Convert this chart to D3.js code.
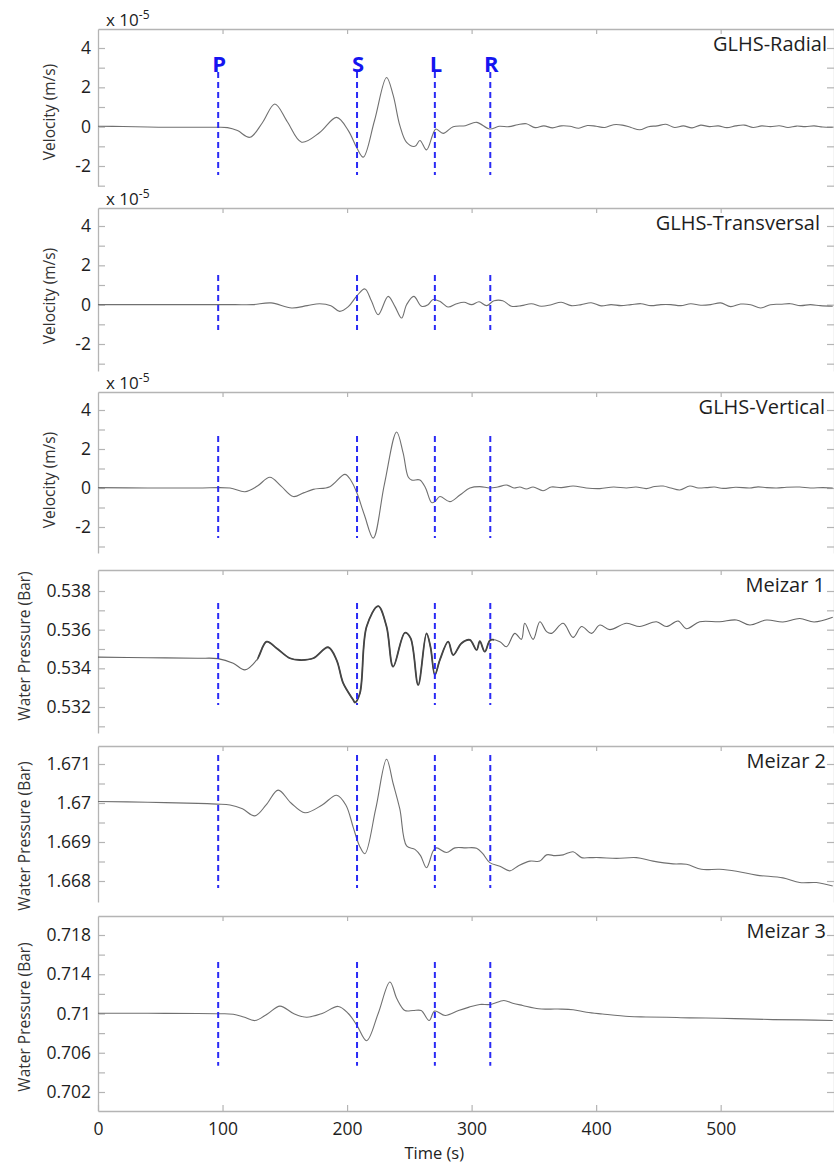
<!DOCTYPE html>
<html lang="en">
<head>
<meta charset="UTF-8">
<style>
    body {margin: 0; background: #fff;}
    svg text {font-family: "Open Sans", sans-serif;}
</style>
</head>
<body>
<div id="chart"></div>
<script src="https://d3js.org/d3.v7.min.js"></script>
<script>

// phase arrivals (s)
var phaseNames = ["P", "S", "L", "R"];
var phaseTimes = [96.5, 208, 270.5, 315];
var timeTicks = [0, 100, 200, 300, 400, 500];

// GLHS-Radial, velocity x 1e-5 m/s
var radialT = [0, 20, 40, 60, 80, 96, 104, 112, 122, 132, 142, 152, 163.5, 178, 191.6, 201, 208, 213, 222, 231.7, 237, 242.4, 247.8, 254.5, 258.5, 263.8, 269, 271.3, 277.2, 285.2, 295, 304, 314.6, 322, 330, 337, 344, 351, 358, 365, 372, 379, 386, 393, 400, 407, 414, 421, 428, 435, 442, 449, 456, 463, 470, 477, 484, 491, 498, 505, 512, 519, 526, 533, 540, 547, 554, 561, 568, 575, 582, 590];
var radialV = [0.02, 0.01, -0.02, -0.03, -0.03, -0.03, -0.05, -0.2, -0.54, 0.2, 1.15, 0.25, -0.79, -0.3, 0.47, -0.2, -1.1, -1.55, 0.3, 2.5, 1.6, 0.05, -0.8, -1.0, -0.7, -1.18, -0.37, -0.12, -0.34, 0.0, 0.05, 0.22, -0.12, 0.02, 0.0, 0.1, 0.15, -0.05, 0.04, -0.06, 0.04, 0.02, -0.08, 0.06, 0.02, -0.04, 0.1, 0.08, -0.04, -0.16, 0.0, 0.04, 0.12, -0.04, 0.04, -0.06, 0.08, 0.0, 0.04, -0.05, 0.04, 0.08, -0.04, 0.04, 0.0, 0.05, -0.04, 0.03, 0.0, 0.04, -0.02, -0.03];

// GLHS-Transversal
var transT = [0, 40, 80, 110, 124, 139, 155.5, 168, 178, 187, 194, 201, 208, 214.3, 219.5, 225, 233, 238.5, 243.8, 247.8, 253.6, 259.8, 265, 269, 274.5, 281, 288, 294, 300, 306, 312, 318, 325, 332, 340, 348, 356, 364, 372, 380, 388, 396, 404, 412, 420, 428, 436, 444, 452, 460, 468, 476, 484, 492, 500, 508, 516, 524, 532, 540, 548, 556, 564, 572, 580, 590];
var transV = [0.0, 0.0, 0.0, 0.0, 0.0, 0.09, -0.17, -0.05, 0.05, -0.05, -0.34, -0.1, 0.46, 0.8, 0.2, -0.51, 0.42, -0.1, -0.68, 0.0, 0.42, -0.08, 0.0, 0.26, 0.17, -0.12, 0.05, 0.12, 0.0, 0.15, -0.05, 0.2, 0.2, -0.08, -0.05, 0.05, -0.08, 0.0, 0.12, -0.05, 0.0, 0.1, -0.06, 0.0, -0.05, 0.0, 0.05, -0.05, 0.0, 0.0, -0.05, 0.05, -0.03, 0.0, 0.09, -0.1, 0.03, 0.0, -0.17, 0.0, 0.02, 0.05, -0.05, 0.0, -0.05, -0.08];

// GLHS-Vertical
var vertT = [0, 40, 80, 106, 118, 128, 138, 147, 156.8, 165, 172.8, 186.2, 198.3, 203, 208, 214, 221, 230, 239.8, 245, 249, 251.8, 258.5, 263, 267.9, 270.5, 274.5, 282.5, 290.6, 298.6, 306.6, 314.6, 321, 328, 334, 338.7, 344, 349.4, 357.4, 364, 372, 381.5, 392, 403, 414, 424.4, 432, 440.4, 447, 453.8, 460, 467.2, 475.2, 482, 488.6, 495, 502, 512, 523.4, 530, 536.8, 545, 552.8, 563.5, 572, 582.2, 590];
var vertV = [0.02, 0.0, 0.0, 0.0, -0.19, 0.1, 0.55, 0.1, -0.44, -0.25, -0.07, 0.07, 0.7, 0.4, -0.27, -1.4, -2.57, 0.2, 2.87, 1.8, 0.58, 0.41, 0.41, 0.0, -0.75, -0.7, -0.44, -0.7, -0.36, 0.0, 0.07, 0.0, 0.05, 0.15, 0.0, 0.05, -0.05, 0.05, -0.14, 0.05, 0.02, 0.1, 0.0, -0.03, 0.05, 0.0, 0.05, -0.03, 0.08, 0.1, 0.0, -0.1, 0.1, 0.0, 0.02, 0.05, -0.02, 0.04, 0.0, 0.06, 0.02, 0.0, 0.04, 0.05, 0.0, 0.02, 0.0];

// Meizar 1, water pressure (bar)
var m1T = [0, 40, 80, 96.3, 108.6, 118, 127.4, 135.4, 143.4, 154.1, 162.1, 172.8, 184.8, 191.6, 196.9, 204.9, 206.3, 210.3, 215.7, 225, 231.7, 237, 246.4, 251, 257.1, 263.8, 267, 270.5, 274.5, 281.2, 285.2, 291.9, 298.6, 304, 306.6, 310.6, 315.2, 322.7, 328, 334.7, 340, 342.7, 349.4, 354.8, 360.2, 364.2, 373.5, 381.5, 388.3, 396.3, 403, 411, 424.4, 435, 448.4, 456.4, 465.8, 472.5, 483.2, 499.2, 512.7, 523.4, 536.8, 550, 563.5, 575, 590];
var m1V = [0.53458, 0.53455, 0.53452, 0.5345, 0.53426, 0.53392, 0.53443, 0.53538, 0.53504, 0.53452, 0.53443, 0.53452, 0.53509, 0.53443, 0.53323, 0.53237, 0.53223, 0.53271, 0.53616, 0.53722, 0.53616, 0.53409, 0.53584, 0.53556, 0.53314, 0.53581, 0.5351, 0.53366, 0.53443, 0.53538, 0.53469, 0.5353, 0.53547, 0.53495, 0.5354, 0.53486, 0.53547, 0.53538, 0.53512, 0.53581, 0.5355, 0.53633, 0.5355, 0.53641, 0.5359, 0.53581, 0.53633, 0.5356, 0.53616, 0.53581, 0.53624, 0.536, 0.53633, 0.53616, 0.53641, 0.53616, 0.53645, 0.53605, 0.53641, 0.53641, 0.5365, 0.53624, 0.5365, 0.5364, 0.53658, 0.5364, 0.53664];

// Meizar 2
var m2T = [0, 40, 80, 95.3, 106, 116, 126, 135, 144.7, 155, 166.2, 180, 191.6, 199, 205, 210, 214.3, 223, 231.7, 237, 242.4, 247.8, 254.5, 259, 263.8, 269.1, 271.8, 279.8, 286.6, 295, 304, 309, 314.6, 322.7, 330.7, 338, 346.8, 354.8, 360.2, 367, 373.5, 381.5, 388.3, 395, 403, 416.3, 432.4, 445.7, 461.8, 472.5, 484.5, 499.2, 512.7, 528.7, 550, 563.5, 576.9, 590];
var m2V = [1.67004, 1.67002, 1.66999, 1.66997, 1.66995, 1.66985, 1.66967, 1.66995, 1.67033, 1.67, 1.66975, 1.66995, 1.6702, 1.66995, 1.66937, 1.6689, 1.6687, 1.66985, 1.67112, 1.6705, 1.66984, 1.6689, 1.66881, 1.66865, 1.66834, 1.66877, 1.66885, 1.66873, 1.66885, 1.66885, 1.66884, 1.6687, 1.66847, 1.66838, 1.66826, 1.6684, 1.66851, 1.66851, 1.66867, 1.66865, 1.66867, 1.66875, 1.6686, 1.6686, 1.6686, 1.66858, 1.6686, 1.66851, 1.66844, 1.66843, 1.6683, 1.6683, 1.66825, 1.66815, 1.66808, 1.66796, 1.66796, 1.66787];

// Meizar 3
var m3T = [0, 40, 80, 96.5, 108.6, 117, 126, 136, 146.1, 157, 167.5, 180, 192.9, 201, 208, 215.7, 225, 234.4, 240, 246.4, 253, 259.5, 265.9, 270.3, 278.8, 289.5, 298, 306.6, 315.2, 325.9, 333, 341, 353.8, 362.3, 372, 381.5, 392.3, 405, 426.5, 440, 456.4, 475, 499.2, 520, 542, 565, 590];
var m3V = [0.71003, 0.71002, 0.71, 0.70997, 0.70993, 0.70965, 0.70928, 0.70995, 0.71075, 0.71, 0.70962, 0.71, 0.71072, 0.71, 0.70877, 0.70723, 0.71, 0.71321, 0.7115, 0.71031, 0.7103, 0.7103, 0.70928, 0.71025, 0.7098, 0.7103, 0.71065, 0.71092, 0.71092, 0.71133, 0.71105, 0.71082, 0.71048, 0.71045, 0.71045, 0.71038, 0.71013, 0.70995, 0.70969, 0.70965, 0.70962, 0.70955, 0.70952, 0.70945, 0.70938, 0.70935, 0.70928];

// axis ticks for each panel
var velTicks = [-2, 0, 2, 4];
var velMinor = [-3, -2, -1, 0, 1, 2, 3, 4];
var m1Ticks = [0.532, 0.534, 0.536, 0.538];
var m1Minor = [0.531, 0.532, 0.533, 0.534, 0.535, 0.536, 0.537, 0.538];
var m2Ticks = [1.668, 1.669, 1.67, 1.671];
var m2Minor = [1.668, 1.6685, 1.669, 1.6695, 1.67, 1.6705, 1.671];
var m3Ticks = [0.702, 0.706, 0.71, 0.714, 0.718];
var m3Minor = [0.702, 0.704, 0.706, 0.708, 0.71, 0.712, 0.714, 0.716, 0.718];

// extent of the dashed arrival markers, in each panel's units
var markLow = [-2.46, -1.29, -2.56, 0.5321, 1.66782, 0.70468];
var markHigh = [2.78, 1.51, 2.67, 0.53738, 1.67123, 0.71525];

var panels = [
    {title: "GLHS-Radial", t: radialT, v: radialV, major: velTicks, minor: velMinor, unit: "Velocity (m/s)",
        top: 29, bottom: 186, refV: [-2, 4], refPx: [166, 48], labX: 50, labY: 112, titleX: 827, exp: true},
    {title: "GLHS-Transversal", t: transT, v: transV, major: velTicks, minor: velMinor, unit: "Velocity (m/s)",
        top: 208, bottom: 371, refV: [-2, 4], refPx: [344, 226], labX: 50, labY: 296, titleX: 820, exp: true},
    {title: "GLHS-Vertical", t: vertT, v: vertV, major: velTicks, minor: velMinor, unit: "Velocity (m/s)",
        top: 392, bottom: 553, refV: [-2, 4], refPx: [527, 410], labX: 50, labY: 480, titleX: 825, exp: true},
    {title: "Meizar 1", t: m1T, v: m1V, major: m1Ticks, minor: m1Minor, unit: "Water Pressure (Bar)",
        top: 570, bottom: 733, refV: [0.532, 0.538], refPx: [707, 591], labX: 25, labY: 646, titleX: 825, noisy: true},
    {title: "Meizar 2", t: m2T, v: m2V, major: m2Ticks, minor: m2Minor, unit: "Water Pressure (Bar)",
        top: 746, bottom: 902, refV: [1.668, 1.671], refPx: [881, 764], labX: 25, labY: 836, titleX: 826},
    {title: "Meizar 3", t: m3T, v: m3V, major: m3Ticks, minor: m3Minor, unit: "Water Pressure (Bar)",
        top: 916, bottom: 1111, refV: [0.702, 0.718], refPx: [1092, 935], labX: 25, labY: 1017, titleX: 826, last: true}
];

var width = 834, height = 1166;
var axisGrey = "#b4b4b4";

var svg = d3.select("#chart")
    .append("svg")
    .attr("width", width)
    .attr("height", height);

var x = d3.scaleLinear().domain([0, 591]).range([98, 834]);

function styleAxis(g, size) {
    g.select(".domain").attr("stroke", axisGrey).attr("stroke-width", 1.3);
    g.selectAll(".tick line").attr("stroke", axisGrey).attr("stroke-width", 1.2);
    g.selectAll(".tick text").attr("fill", "#1e1e1e").style("font-size", size + "px");
}

panels.forEach(function (p, i) {
    var ref = d3.scaleLinear().domain(p.refV).range(p.refPx);
    var y = d3.scaleLinear()
        .domain([ref.invert(p.bottom), ref.invert(p.top)])
        .range([p.bottom, p.top]);

    var g = svg.append("g");

    g.append("clipPath").attr("id", "clip" + i)
        .append("rect")
        .attr("x", x(0)).attr("y", p.top)
        .attr("width", x(591) - x(0)).attr("height", p.bottom - p.top);

    // left axis
    var left = g.append("g")
        .attr("transform", "translate(" + x(0) + ",0)")
        .call(d3.axisLeft(y).tickValues(p.minor).tickSize(-7).tickSizeOuter(0).tickPadding(7)
            .tickFormat(function (d) { return p.major.indexOf(d) >= 0 ? String(d) : ""; }));
    styleAxis(left, 17.5);

    // right axis, ticks only
    var right = g.append("g")
        .attr("transform", "translate(" + x(591) + ",0)")
        .call(d3.axisRight(y).tickValues(p.minor).tickSize(-7).tickSizeOuter(0).tickFormat(""));
    styleAxis(right, 10);

    // top border with time ticks
    var top = g.append("g")
        .attr("transform", "translate(0," + p.top + ")")
        .call(d3.axisTop(x).tickValues(timeTicks.slice(1)).tickSize(-5).tickSizeOuter(0).tickFormat(""));
    styleAxis(top, 10);

    if (p.last) {
        var bottom = g.append("g")
            .attr("transform", "translate(0," + p.bottom + ")")
            .call(d3.axisBottom(x).tickValues(timeTicks).tickSize(-6).tickSizeOuter(0).tickPadding(12)
                .tickFormat(function (d) { return String(d); }));
        styleAxis(bottom, 17.5);

        g.append("text")
            .attr("x", x(270))
            .attr("y", 1159)
            .attr("text-anchor", "middle")
            .style("font-size", "16.5px")
            .attr("fill", "#222")
            .text("Time (s)");
    }

    // trace
    var series = p.t.map(function (t, k) { return {t: t, v: p.v[k]}; });
    var line = d3.line()
        .x(function (d) { return x(d.t); })
        .y(function (d) { return y(d.v); })
        .curve(d3.curveCatmullRom.alpha(0.5));

    g.append("path")
        .datum(series)
        .attr("clip-path", "url(#clip" + i + ")")
        .attr("d", line)
        .attr("fill", "none")
        .attr("stroke", p.noisy ? "#666" : "#707070")
        .attr("stroke-width", 1.1);

    if (p.noisy) {
        // the noisy part of the pressure record shows as a thicker, darker line
        g.append("clipPath").attr("id", "noise" + i)
            .append("rect")
            .attr("x", x(128)).attr("y", p.top)
            .attr("width", x(318) - x(128)).attr("height", p.bottom - p.top);
        g.append("path")
            .datum(series)
            .attr("clip-path", "url(#noise" + i + ")")
            .attr("d", line)
            .attr("fill", "none")
            .attr("stroke", "#454545")
            .attr("stroke-width", 1.8);
    }

    // dashed arrival markers
    g.selectAll(".mark")
        .data(phaseTimes)
        .enter().append("line")
        .attr("x1", function (d) { return x(d); })
        .attr("x2", function (d) { return x(d); })
        .attr("y1", y(markHigh[i]))
        .attr("y2", y(markLow[i]))
        .attr("stroke", "#2a2af5")
        .attr("stroke-width", 2)
        .attr("stroke-dasharray", "6,4");

    if (i === 0) {
        g.selectAll(".phase")
            .data(phaseNames)
            .enter().append("text")
            .attr("x", function (d, k) { return x(phaseTimes[k]) + 1; })
            .attr("y", y(markHigh[i]))
            .attr("text-anchor", "middle")
            .attr("fill", "#1515f0")
            .style("font-size", "22px")
            .style("font-weight", "bold")
            .text(function (d) { return d; });
    }

    // station / component title
    g.append("text")
        .attr("x", p.titleX)
        .attr("y", p.top + 22)
        .attr("text-anchor", "end")
        .attr("fill", "#1e1e1e")
        .style("font-size", "20px")
        .text(p.title);

    // y label
    g.append("text")
        .attr("transform", "translate(" + p.labX + "," + p.labY + ") rotate(-90)")
        .attr("text-anchor", "middle")
        .attr("dy", "0.35em")
        .attr("fill", "#333")
        .style("font-size", "15.5px")
        .text(p.unit);

    // exponent
    if (p.exp) {
        var ex = g.append("text")
            .attr("x", 106)
            .attr("y", p.top - 3)
            .attr("fill", "#222")
            .style("font-size", "17px");
        ex.append("tspan").text("x 10");
        ex.append("tspan").attr("dy", -7).style("font-size", "12px").text("-5");
    }
});

</script>
</body>
</html>
